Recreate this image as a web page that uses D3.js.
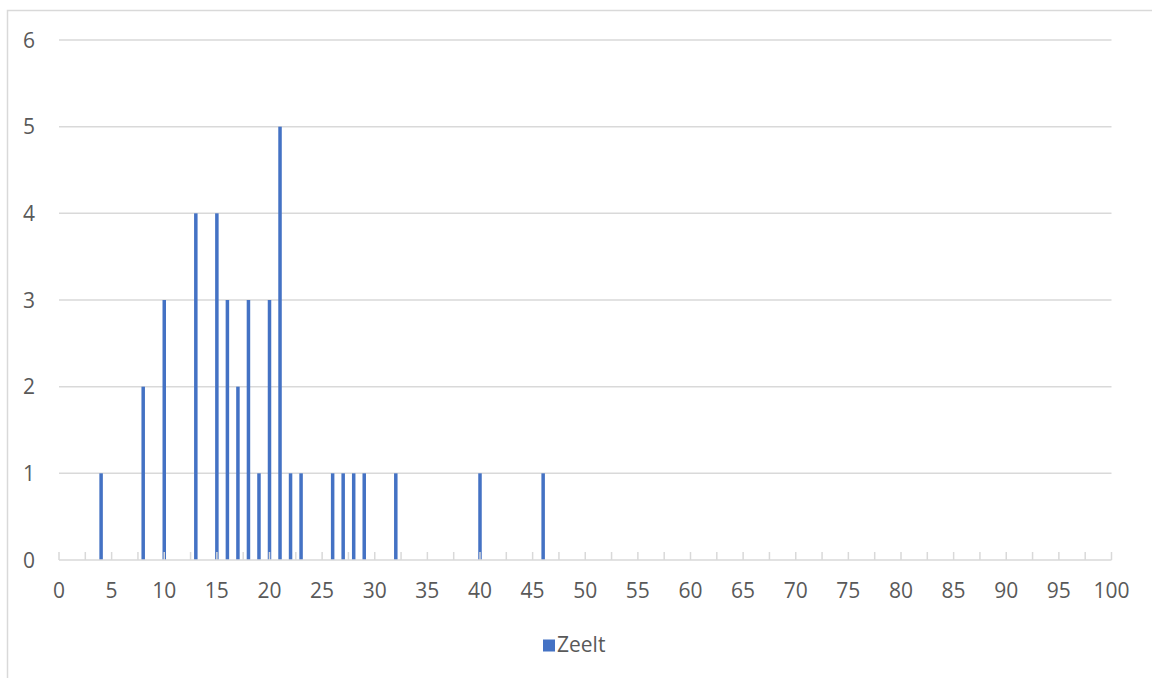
<!DOCTYPE html>
<html>
<head>
<meta charset="utf-8">
<script src="https://cdn.jsdelivr.net/npm/d3@7"></script>
<style>
  html, body { margin: 0; padding: 0; background: #fff; }
  svg { display: block; }
  text { font-family: "Open Sans", "Liberation Sans", sans-serif; fill: #595959; }
</style>
</head>
<body>
<svg id="chart" width="1152" height="678"></svg>
<script>
const lengths = [4, 8, 10, 13, 15, 16, 17, 18, 19, 20, 21, 22, 23, 26, 27, 28, 29, 32, 40, 46];
const counts  = [1, 2, 3, 4, 4, 3, 2, 3, 1, 3, 5, 1, 1, 1, 1, 1, 1, 1, 1, 1];
const seriesName = "Zeelt";
const xTickLabels = d3.range(0, 101, 5);
const xTickMarks = d3.range(0, 100.01, 2.5);
const yTickLabels = [0, 1, 2, 3, 4, 5, 6];

const svg = d3.select("#chart");
const m = { left: 59, right: 1111.5, top: 40, bottom: 560 };
const fs = 21;

const x = d3.scaleLinear().domain([0, 100]).range([m.left, m.right]);
const y = d3.scaleLinear().domain([0, 6]).range([m.bottom, m.top]);

// chart border
svg.append("rect")
  .attr("x", 7.5).attr("y", 10.5)
  .attr("width", 1300).attr("height", 900)
  .attr("fill", "none").attr("stroke", "#d9d9d9").attr("stroke-width", 1.5);

// gridlines
svg.append("g").selectAll("line")
  .data(yTickLabels.filter(d => d > 0))
  .join("line")
  .attr("x1", m.left).attr("x2", m.right)
  .attr("y1", d => y(d)).attr("y2", d => y(d))
  .attr("stroke", "#d9d9d9").attr("stroke-width", 1.5);

// y labels
svg.append("g").selectAll("text")
  .data(yTickLabels)
  .join("text")
  .attr("x", 35).attr("y", d => y(d))
  .attr("dy", "0.36em")
  .attr("text-anchor", "end")
  .attr("font-size", fs)
  .text(d => d);

// bars
const bw = 3.5;
svg.append("g").selectAll("rect")
  .data(lengths.map((l, i) => ({ l, c: counts[i] })))
  .join("rect")
  .attr("x", d => x(d.l) - bw / 2)
  .attr("width", bw)
  .attr("y", d => y(d.c))
  .attr("height", d => y(0) - y(d.c))
  .attr("fill", "#4472C4");

// x axis line and ticks
svg.append("line")
  .attr("x1", m.left).attr("x2", m.right)
  .attr("y1", y(0)).attr("y2", y(0))
  .attr("stroke", "#d9d9d9").attr("stroke-width", 1.5);

svg.append("g").selectAll("line")
  .data(xTickMarks)
  .join("line")
  .attr("x1", d => x(d)).attr("x2", d => x(d))
  .attr("y1", y(0) - 8).attr("y2", y(0))
  .attr("stroke", "#d9d9d9").attr("stroke-width", 1.5);

// x labels
svg.append("g").selectAll("text")
  .data(xTickLabels)
  .join("text")
  .attr("x", d => x(d)).attr("y", 598)
  .attr("text-anchor", "middle")
  .attr("font-size", fs)
  .text(d => d);

// legend
svg.append("rect")
  .attr("x", 543).attr("y", 639.5)
  .attr("width", 12).attr("height", 12)
  .attr("fill", "#4472C4");
svg.append("text")
  .attr("x", 557).attr("y", 651.5)
  .attr("font-size", fs)
  .text(seriesName);
</script>
</body>
</html>
